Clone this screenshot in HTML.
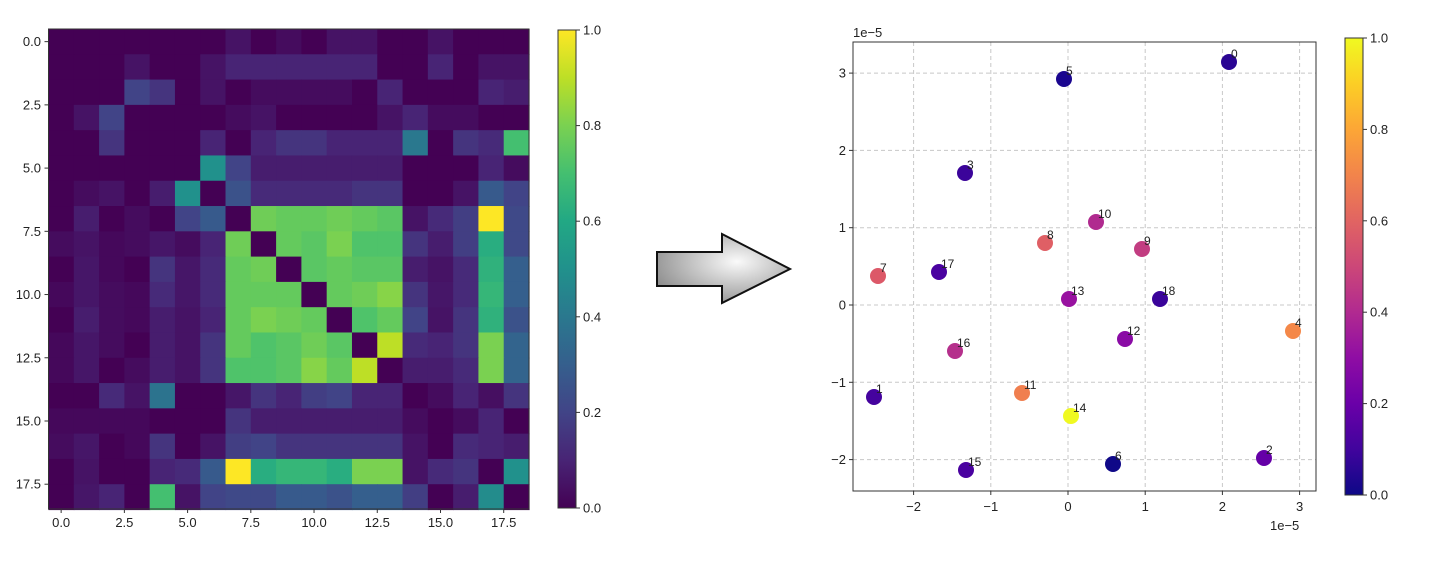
<!DOCTYPE html>
<html><head><meta charset="utf-8"><style>
body{margin:0;background:#fff;width:1430px;height:577px;overflow:hidden;font-family:"Liberation Sans","DejaVu Sans",sans-serif}
</style></head><body>
<svg id="s" width="1430" height="577" xmlns="http://www.w3.org/2000/svg" font-family="Liberation Sans, DejaVu Sans, sans-serif" font-size="13" fill="#222">
<defs>
<linearGradient id="vir" x1="0" y1="1" x2="0" y2="0">
<stop offset="0" stop-color="#440154"/><stop offset="0.1" stop-color="#482475"/><stop offset="0.2" stop-color="#414487"/><stop offset="0.3" stop-color="#355f8d"/><stop offset="0.4" stop-color="#2a788e"/><stop offset="0.5" stop-color="#21918c"/><stop offset="0.6" stop-color="#22a884"/><stop offset="0.7" stop-color="#44bf70"/><stop offset="0.8" stop-color="#7ad151"/><stop offset="0.9" stop-color="#bddf26"/><stop offset="1" stop-color="#fde725"/>
</linearGradient>
<linearGradient id="pla" x1="0" y1="1" x2="0" y2="0">
<stop offset="0" stop-color="#0d0887"/><stop offset="0.1" stop-color="#41049d"/><stop offset="0.2" stop-color="#6a00a8"/><stop offset="0.3" stop-color="#8f0da4"/><stop offset="0.4" stop-color="#b12a90"/><stop offset="0.5" stop-color="#cc4778"/><stop offset="0.6" stop-color="#e16462"/><stop offset="0.7" stop-color="#f2844b"/><stop offset="0.8" stop-color="#fca636"/><stop offset="0.9" stop-color="#fcce25"/><stop offset="1" stop-color="#f0f921"/>
</linearGradient>
<radialGradient id="arr" cx="0.6" cy="0.4" r="0.7"><stop offset="0" stop-color="#fafafa"/><stop offset="1" stop-color="#8a8a8a"/></radialGradient>
</defs>
<g id="heat"></g>
<rect x="48.5" y="29" width="480.5" height="480" fill="none" stroke="#333" stroke-width="1"/>
<g id="hticks"></g>
<rect x="558" y="30" width="18" height="478" fill="url(#vir)" stroke="#333" stroke-width="1"/>
<g id="cb1"></g>
<path d="M657,252 L722,252 L722,234 L790,269 L722,303 L722,286 L657,286 Z" fill="url(#arr)" stroke="#111" stroke-width="2"/>
<g id="grid"></g>
<rect x="853" y="42" width="463" height="449" fill="none" stroke="#333" stroke-width="1"/>
<g id="pts"></g>
<text x="853" y="37" font-size="13">1e−5</text>
<text x="1270" y="530" font-size="13">1e−5</text>
<rect x="1345" y="38" width="18" height="457" fill="url(#pla)" stroke="#333" stroke-width="1"/>
<g id="cb2"></g>
</svg>
<script>
const NS="http://www.w3.org/2000/svg";
function el(p,t,a,txt){const e=document.createElementNS(NS,t);for(const k in a)e.setAttribute(k,a[k]);if(txt!==undefined)e.textContent=txt;document.getElementById(p).appendChild(e);return e;}
const V=["#440154","#482475","#414487","#355f8d","#2a788e","#21918c","#22a884","#44bf70","#7ad151","#bddf26","#fde725"];
function hx(c){return [1,3,5].map(i=>parseInt(c.substr(i,2),16));}
function vir(v){v=Math.max(0,Math.min(1,v))*10;const i=Math.min(9,Math.floor(v)),f=v-i;const a=hx(V[i]),b=hx(V[i+1]);return "rgb("+a.map((x,k)=>Math.round(x+(b[k]-x)*f)).join(",")+")";}
const M=[
[0,0,0,0,0,0,0,0.05,0,0.03,0,0.05,0.05,0,0,0.05,0,0,0],
[0,0,0,0.05,0,0,0.05,0.1,0.1,0.1,0.1,0.1,0.1,0,0,0.1,0,0.05,0.05],
[0,0,0,0.2,0.15,0,0.05,0,0.03,0.03,0.03,0.03,0,0.1,0,0,0,0.1,0.08],
[0,0.05,0.2,0,0,0,0,0.03,0.05,0,0,0,0,0.05,0.1,0.03,0.03,0,0],
[0,0,0.15,0,0,0,0.1,0,0.1,0.15,0.15,0.1,0.1,0.1,0.4,0,0.15,0.12,0.7],
[0,0,0,0,0,0,0.5,0.2,0.08,0.08,0.08,0.08,0.08,0.08,0,0,0,0.1,0.03],
[0,0.03,0.05,0,0.08,0.5,0,0.25,0.12,0.12,0.12,0.12,0.15,0.15,0,0,0.05,0.28,0.2],
[0,0.08,0,0.03,0,0.2,0.28,0,0.78,0.76,0.76,0.78,0.76,0.74,0.05,0.12,0.18,1.0,0.22],
[0.03,0.05,0.02,0.03,0.06,0.03,0.1,0.78,0,0.76,0.74,0.8,0.72,0.72,0.15,0.08,0.18,0.62,0.22],
[0,0.06,0.02,0,0.15,0.06,0.12,0.76,0.78,0,0.74,0.76,0.74,0.74,0.08,0.05,0.12,0.64,0.3],
[0.02,0.06,0.03,0.02,0.12,0.06,0.12,0.76,0.76,0.76,0,0.76,0.78,0.82,0.15,0.06,0.12,0.66,0.3],
[0,0.08,0.03,0.02,0.08,0.05,0.1,0.76,0.8,0.78,0.76,0,0.72,0.76,0.2,0.05,0.15,0.64,0.25],
[0.02,0.06,0.03,0,0.08,0.05,0.15,0.76,0.72,0.74,0.78,0.74,0,0.9,0.12,0.1,0.15,0.8,0.32],
[0.02,0.06,0,0.03,0.08,0.05,0.15,0.72,0.72,0.74,0.82,0.76,0.9,0,0.08,0.08,0.12,0.8,0.32],
[0,0,0.12,0.05,0.38,0,0,0.06,0.15,0.1,0.18,0.2,0.1,0.1,0,0.03,0.1,0.04,0.15],
[0.02,0.02,0.02,0.02,0,0,0,0.15,0.08,0.08,0.08,0.08,0.08,0.08,0.03,0,0.03,0.1,0],
[0.03,0.06,0,0.02,0.15,0,0.05,0.18,0.2,0.15,0.15,0.15,0.15,0.15,0.05,0,0.12,0.1,0.08],
[0,0.05,0,0,0.1,0.12,0.28,1.0,0.62,0.66,0.66,0.62,0.8,0.8,0.05,0.12,0.15,0,0.5],
[0,0.06,0.1,0,0.7,0.05,0.2,0.22,0.22,0.28,0.28,0.25,0.3,0.3,0.18,0,0.08,0.48,0]];
const X0=48.5,Y0=29,C=480.5/19;
for(let r=0;r<19;r++)for(let c=0;c<19;c++)el("heat","rect",{x:X0+c*C,y:Y0+r*C,width:C+0.6,height:C+0.6,fill:vir(M[r][c])});
["0.0","2.5","5.0","7.5","10.0","12.5","15.0","17.5"].forEach((t,i)=>{const v=i*2.5;const p=X0+(v+0.5)*C;const q=Y0+(v+0.5)*C;
el("hticks","line",{x1:p,y1:509,x2:p,y2:513,stroke:"#333"});el("hticks","text",{x:p,y:527,"text-anchor":"middle"},t);
el("hticks","line",{x1:44.5,y1:q,x2:48.5,y2:q,stroke:"#333"});el("hticks","text",{x:41,y:q+4.5,"text-anchor":"end"},t);});
for(let i=0;i<=5;i++){const y=508-i*478/5;el("cb1","line",{x1:576,y1:y,x2:580,y2:y,stroke:"#333"});el("cb1","text",{x:583,y:y+4.5},(i/5).toFixed(1));}
for(let i=0;i<=5;i++){const y=495-i*457/5;el("cb2","line",{x1:1363,y1:y,x2:1367,y2:y,stroke:"#333"});el("cb2","text",{x:1370,y:y+4.5},(i/5).toFixed(1));}
const XU=77.2,XO=1068,YO=305,YU=77.3;
for(let v=-2;v<=3;v++){const x=XO+v*XU;el("grid","line",{x1:x,y1:42,x2:x,y2:491,stroke:"#c8c8c8","stroke-dasharray":"4,3"});el("grid","line",{x1:x,y1:491,x2:x,y2:495,stroke:"#333"});el("grid","text",{x:x,y:511,"text-anchor":"middle"},v<0?"−"+(-v):""+v);}
for(let v=-2;v<=3;v++){const y=YO-v*YU;el("grid","line",{x1:853,y1:y,x2:1316,y2:y,stroke:"#c8c8c8","stroke-dasharray":"4,3"});el("grid","line",{x1:849,y1:y,x2:853,y2:y,stroke:"#333"});el("grid","text",{x:846,y:y+4.5,"text-anchor":"end"},v<0?"−"+(-v):""+v);}
const P=[[0,1229,62,"#2a0593"],[5,1064,79,"#1a068f"],[3,965,173,"#3b049a"],[10,1096,222,"#b02a8f"],[8,1045,243,"#df5f65"],[9,1142,249,"#c23d81"],[7,878,276,"#dc5868"],[17,939,272,"#4a02a0"],[13,1069,299,"#9812a0"],[18,1160,299,"#3a049a"],[4,1293,331,"#f48849"],[12,1125,339,"#8a0ba5"],[16,955,351,"#b5308c"],[1,874,397,"#45039e"],[11,1022,393,"#f07f4f"],[14,1071,416,"#f0f921"],[6,1113,464,"#0f0888"],[2,1264,458,"#6500a7"],[15,966,470,"#4a02a0"]];
P.forEach(p=>{el("pts","circle",{cx:p[1],cy:p[2],r:8,fill:p[3]});el("pts","text",{x:p[1]+2,y:p[2]-4,"font-size":"12"},""+p[0]);});
</script>
</body></html>
